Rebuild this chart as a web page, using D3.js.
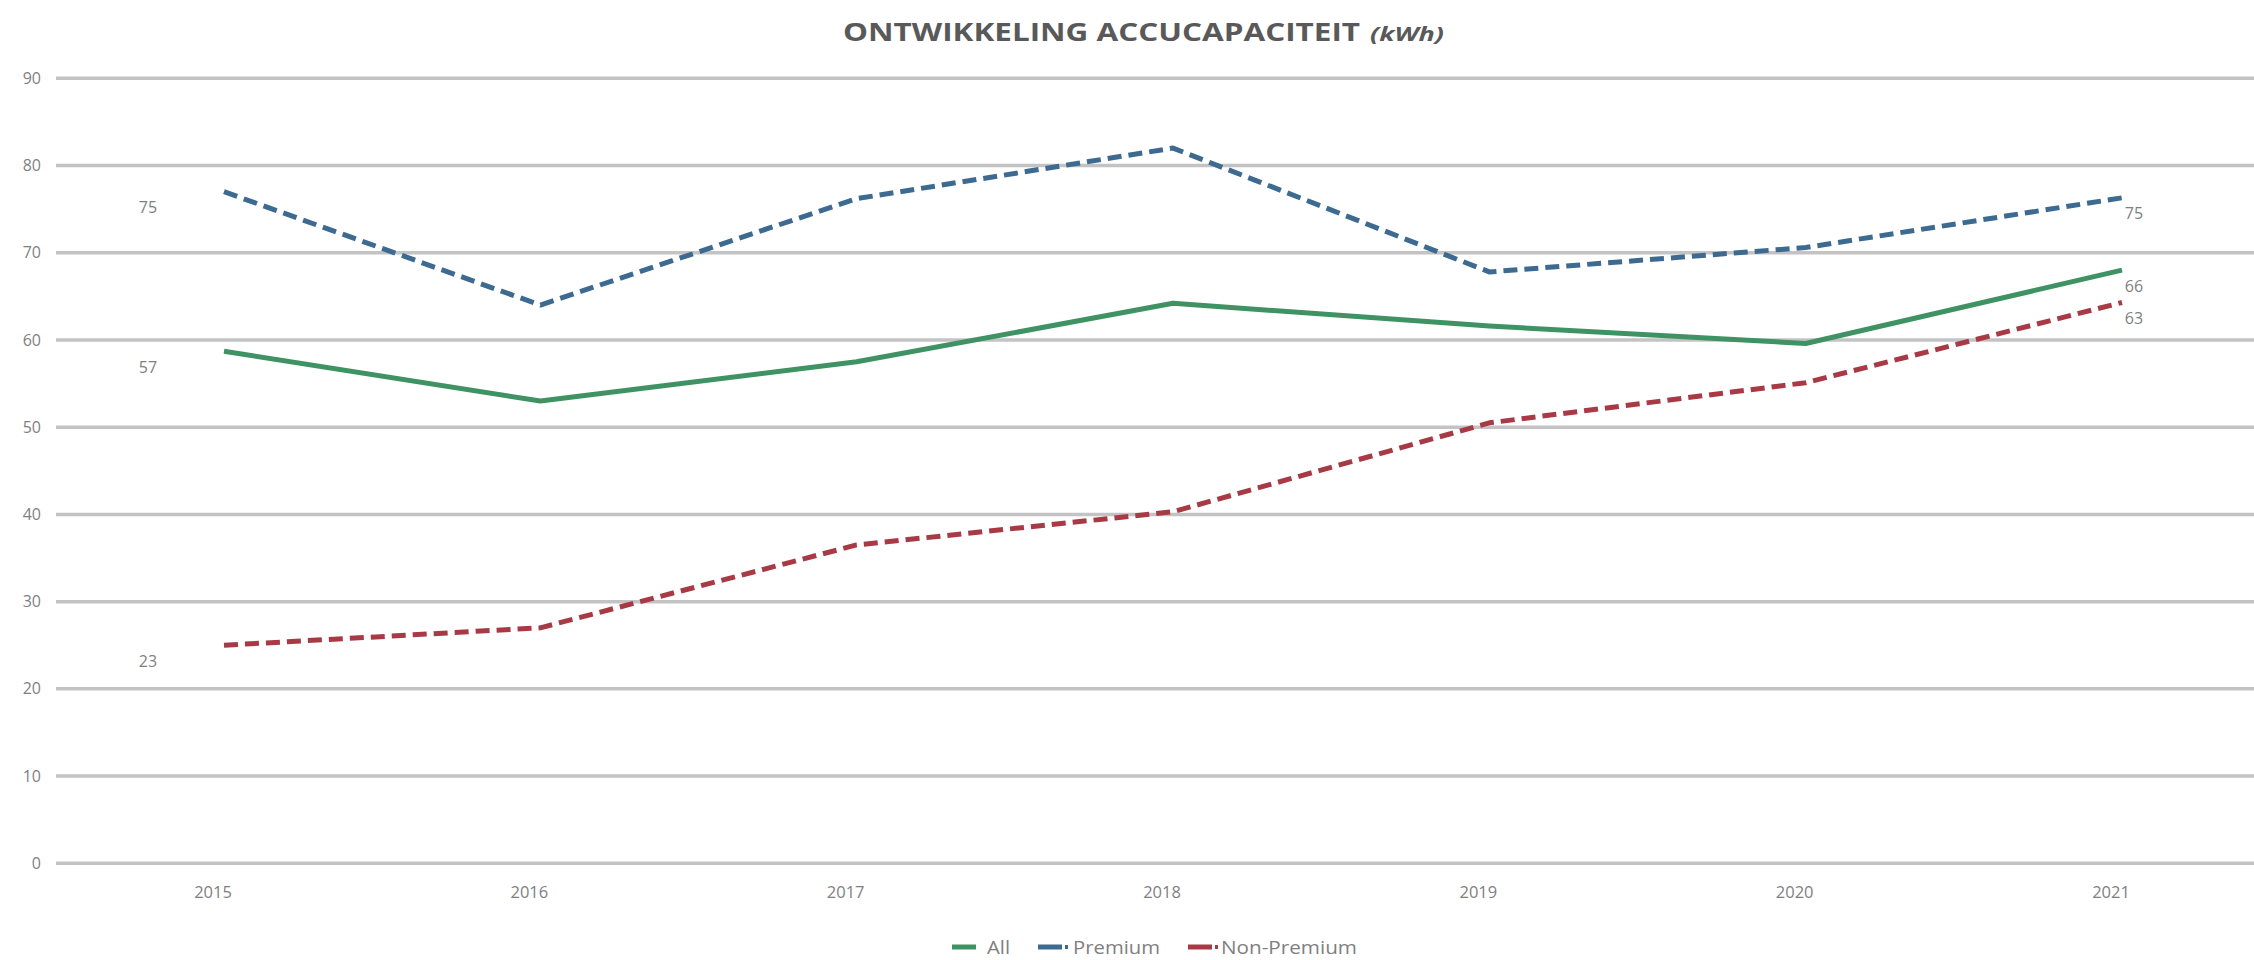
<!DOCTYPE html>
<html>
<head>
<meta charset="utf-8">
<script src="https://cdn.jsdelivr.net/npm/d3@7"></script>
<style>
  html, body { margin: 0; padding: 0; background: #ffffff; }
  svg { display: block; }
</style>
</head>
<body>
<svg id="chart" width="2254" height="960"></svg>
<script>
// ---- data ----
const years = ["2015", "2016", "2017", "2018", "2019", "2020", "2021"];
const allValues = [58.7, 53.0, 57.5, 64.2, 61.6, 59.6, 68.0];
const premiumValues = [77.0, 64.0, 76.2, 82.0, 67.8, 70.6, 76.3];
const nonPremiumValues = [25.0, 27.0, 36.5, 40.3, 50.5, 55.1, 64.3];
// data labels shown at first and last point (as printed in chart)
const allLabels = ["57", "66"];
const premiumLabels = ["75", "75"];
const nonPremiumLabels = ["23", "63"];
const yTicks = [0, 10, 20, 30, 40, 50, 60, 70, 80, 90];
const seriesNames = ["All", "Premium", "Non-Premium"];

const series = [
  { name: seriesNames[0], values: allValues, labels: allLabels, color: "#3f9263", dash: null },
  { name: seriesNames[1], values: premiumValues, labels: premiumLabels, color: "#3c6a90", dash: "14,7" },
  { name: seriesNames[2], values: nonPremiumValues, labels: nonPremiumLabels, color: "#a83a46", dash: "14,7" }
];

const svg = d3.select("#chart");
const font = "'Open Sans', 'Liberation Sans', sans-serif";

const x = d3.scalePoint().domain(years).range([224, 2122]);
const y = d3.scaleLinear().domain([0, 90]).range([863.3, 78.3]);

// gridlines
svg.append("g").selectAll("line").data(yTicks).join("line")
  .attr("x1", 56).attr("x2", 2254)
  .attr("y1", d => y(d)).attr("y2", d => y(d))
  .attr("stroke", "#c3c3c3").attr("stroke-width", 3.5);

// y tick labels
svg.append("g").selectAll("text").data(yTicks).join("text")
  .attr("x", 41).attr("y", d => y(d)).attr("dy", "0.35em")
  .attr("text-anchor", "end")
  .attr("font-family", font).attr("font-size", 16).attr("fill", "#7f7f7f")
  .text(d => d);

// x category labels
svg.append("g").selectAll("text").data(years).join("text")
  .attr("x", d => x(d) - 11).attr("y", 898)
  .attr("text-anchor", "middle")
  .attr("font-family", font).attr("font-size", 16.5).attr("fill", "#7f7f7f")
  .text(d => d);

// lines
const line = d3.line().x((d, i) => x(years[i])).y(d => y(d));
series.forEach(s => {
  svg.append("path")
    .datum(s.values)
    .attr("d", line)
    .attr("fill", "none")
    .attr("stroke", s.color)
    .attr("stroke-width", 5)
    .attr("stroke-linejoin", "round")
    .attr("stroke-dasharray", s.dash);
});

// data labels
series.forEach(s => {
  const first = s.values[0], last = s.values[s.values.length - 1];
  svg.append("text")
    .attr("x", x(years[0]) - 76).attr("y", y(first) + 16).attr("dy", "0.35em")
    .attr("text-anchor", "middle")
    .attr("font-family", font).attr("font-size", 16).attr("fill", "#7f7f7f")
    .text(s.labels[0]);
  svg.append("text")
    .attr("x", x(years[years.length - 1]) + 12).attr("y", y(last) + 16).attr("dy", "0.35em")
    .attr("text-anchor", "middle")
    .attr("font-family", font).attr("font-size", 16).attr("fill", "#7f7f7f")
    .text(s.labels[1]);
});

// title
const title = svg.append("text")
  .attr("x", 843).attr("y", 41)
  .attr("font-family", font).attr("font-weight", "bold").attr("font-size", 25)
  .attr("fill", "#595959");
title.append("tspan").text("ONTWIKKELING ACCUCAPACITEIT")
  .attr("textLength", 517).attr("lengthAdjust", "spacingAndGlyphs");
title.append("tspan").attr("x", 1370).attr("font-style", "italic").attr("font-size", 19)
  .attr("textLength", 74).attr("lengthAdjust", "spacingAndGlyphs")
  .text("(kWh)");

// legend
const legendItems = [
  { s: series[0], sx: 952, tx: 987, w: 23 },
  { s: series[1], sx: 1038, tx: 1073, w: 87 },
  { s: series[2], sx: 1188, tx: 1221, w: 136 }
];
const ly = 947;
legendItems.forEach(it => {
  const g = svg.append("g");
  g.append("line")
    .attr("x1", it.sx).attr("x2", it.sx + 24).attr("y1", ly).attr("y2", ly)
    .attr("stroke", it.s.color).attr("stroke-width", 5);
  if (it.s.dash) {
    g.append("line")
      .attr("x1", it.sx + 27).attr("x2", it.sx + 30).attr("y1", ly).attr("y2", ly)
      .attr("stroke", it.s.color).attr("stroke-width", 4);
  }
  g.append("text")
    .attr("x", it.tx).attr("y", ly).attr("dy", "0.35em")
    .attr("font-family", font).attr("font-size", 19).attr("fill", "#7f7f7f")
    .attr("textLength", it.w).attr("lengthAdjust", "spacingAndGlyphs")
    .text(it.s.name);
});
</script>
</body>
</html>
